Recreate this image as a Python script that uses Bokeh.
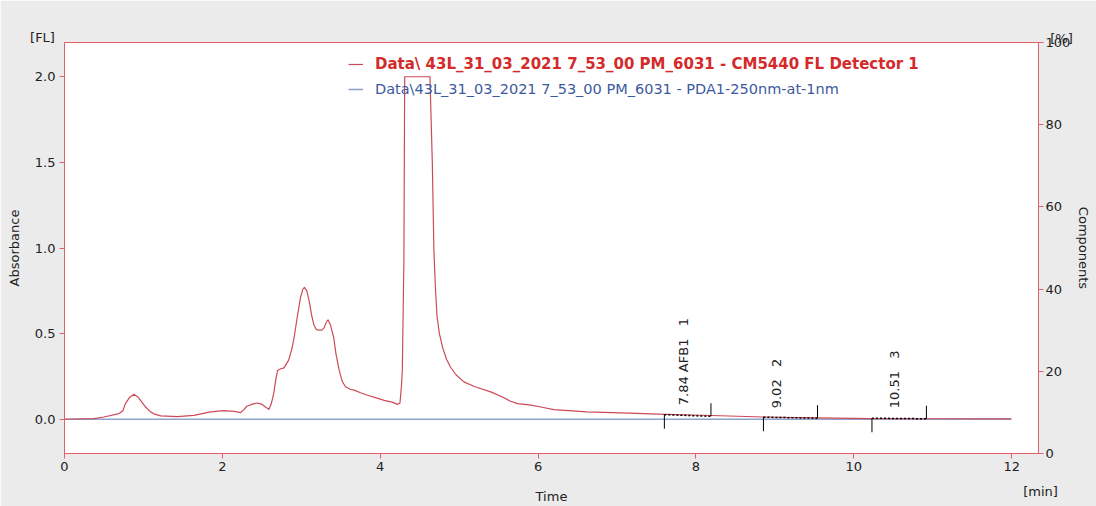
import math
from bokeh.plotting import figure
from bokeh.layouts import column
from bokeh.models import (Range1d, LinearAxis, FixedTicker, PrintfTickFormatter,
                          Legend, LegendItem, ColumnDataSource)
from bokeh.core.properties import value
from bokeh.embed import file_html
from bokeh.resources import INLINE

# ---------------- data ----------------
fl_time = [0, 0.37, 0.50, 0.69, 0.74, 0.77, 0.82, 0.88, 0.93, 0.98, 1.03, 1.09, 1.15, 1.22,
           1.43, 1.64, 1.85, 2.02, 2.15, 2.23, 2.27, 2.31, 2.38, 2.44, 2.50, 2.55, 2.59,
           2.62, 2.65, 2.68, 2.70, 2.74, 2.78, 2.84, 2.88, 2.91, 2.95, 2.99, 3.02, 3.04,
           3.07, 3.10, 3.13, 3.16, 3.19, 3.22, 3.26, 3.29, 3.32, 3.34, 3.37, 3.41, 3.44,
           3.48, 3.52, 3.56, 3.62, 3.67, 3.75, 3.84, 3.95, 4.05, 4.15, 4.22, 4.25, 4.27,
           4.28, 4.30, 4.31, 4.63, 4.66, 4.68, 4.70, 4.72, 4.75, 4.79, 4.84, 4.89, 4.96,
           5.06, 5.20, 5.40, 5.55, 5.65, 5.74, 5.91, 6.05, 6.20, 6.62, 7.05, 7.62, 8.20,
           8.86, 9.54, 10.22, 10.92, 11.99]
fl_signal = [0, 0.004, 0.013, 0.033, 0.05, 0.09, 0.125, 0.146, 0.13, 0.10, 0.07, 0.043, 0.028, 0.02,
             0.015, 0.023, 0.043, 0.05, 0.046, 0.039, 0.055, 0.076, 0.088, 0.095, 0.088, 0.07, 0.058,
             0.09, 0.15, 0.24, 0.285, 0.295, 0.30, 0.345, 0.41, 0.48, 0.60, 0.71, 0.76, 0.77,
             0.75, 0.69, 0.61, 0.55, 0.525, 0.52, 0.52, 0.535, 0.57, 0.58, 0.55, 0.48, 0.38,
             0.285, 0.22, 0.19, 0.175, 0.17, 0.155, 0.14, 0.125, 0.11, 0.10, 0.087, 0.095, 0.2,
             0.285, 0.93, 2.0, 2.0, 1.5, 0.985, 0.76, 0.60, 0.50, 0.42, 0.35, 0.305, 0.26,
             0.218, 0.19, 0.16, 0.13, 0.105, 0.091, 0.082, 0.07, 0.056, 0.043, 0.037, 0.029, 0.022,
             0.013, 0.008, 0.004, 0.003, 0.002]

pda_time = [0, 2, 4, 6, 8, 10, 12]
pda_signal = [0, 0, 0, 0, 0, 0, 0]

peak_rt = [7.84, 9.02, 10.51]
peak_names = ["7.84 AFB1\u00a0\u00a0\u00a01", "9.02\u00a0\u00a0\u00a02", "10.51\u00a0\u00a0\u00a03"]
peak_label_y = [0.082, 0.064, 0.064]
peak_start = [7.60, 8.855, 10.23]
peak_end = [8.19, 9.54, 10.92]
base_start = [0.027, 0.012, 0.006]
base_end = [0.017, 0.006, 0.003]

y_ticks = [0, 0.5, 1.0, 1.5, 2.0]
x_ticks = [0, 2, 4, 6, 8, 10, 12]
pct_ticks = [0, 20, 40, 60, 80, 100]

legend_fl = "Data\\ 43L_31_03_2021 7_53_00 PM_6031 - CM5440 FL Detector 1"
legend_pda = "Data\\43L_31_03_2021 7_53_00 PM_6031 - PDA1-250nm-at-1nm"

# ---------------- style ----------------
FRAME = "#e06070"
CURVE = "#cc4a58"
BLUE = "#8fa3cc"
TXT = "#222222"
FONT = "DejaVu Sans"
W, H = 1096, 506

p = figure(width=W, height=H, output_backend="svg", toolbar_location=None,
           x_range=Range1d(0, 12.34), y_range=Range1d(-0.2, 2.2),
           min_border_left=64, min_border_right=58, min_border_top=42, min_border_bottom=53,
           background_fill_color="white", border_fill_color="#ebebeb",
           outline_line_color=FRAME, outline_line_width=1)
p.xgrid.visible = False
p.ygrid.visible = False

p.extra_y_ranges = {"pct": Range1d(0, 100)}
rax = LinearAxis(y_range_name="pct", ticker=FixedTicker(ticks=pct_ticks))
p.add_layout(rax, "right")

p.yaxis[0].ticker = FixedTicker(ticks=y_ticks)
p.yaxis[0].formatter = PrintfTickFormatter(format="%.1f")
p.xaxis[0].ticker = FixedTicker(ticks=x_ticks)

for ax in p.axis:
    ax.axis_line_color = FRAME
    ax.major_tick_line_color = FRAME
    ax.major_tick_out = 5
    ax.major_tick_in = 0
    ax.minor_tick_line_color = None
    ax.major_label_text_font = FONT
    ax.major_label_text_font_size = "13px"
    ax.major_label_text_color = TXT
    ax.major_label_standoff = 4
    ax.axis_label_text_font = FONT
    ax.axis_label_text_font_size = "13px"
    ax.axis_label_text_font_style = "normal"
    ax.axis_label_text_color = TXT

p.yaxis[0].axis_label = "Absorbance"
p.yaxis[0].axis_label_standoff = 10
p.xaxis[0].axis_label = "Time"
p.xaxis[0].major_label_standoff = 3
p.xaxis[0].axis_label_standoff = 15
rax.axis_label = "Components"
rax.major_label_standoff = 2
rax.axis_label_standoff = 3

pda = p.line(pda_time, pda_signal, line_color=BLUE, line_width=1.6)
fl = p.line(fl_time, fl_signal, line_color=CURVE, line_width=1.2, line_join="round")

# integration marks
src = ColumnDataSource(dict(s=peak_start, e=peak_end, bs=base_start, be=base_end,
                            bs_low=[b - 0.082 for b in base_start],
                            be_high=[b + 0.076 for b in base_end]))
p.segment(x0="s", y0="bs", x1="e", y1="be", source=src, line_color="black",
          line_width=1.5, line_dash="2 2")
p.segment(x0="s", y0="bs", x1="s", y1="bs_low", source=src, line_color="black", line_width=1)
p.segment(x0="e", y0="be", x1="e", y1="be_high", source=src, line_color="black", line_width=1)

p.text(x=peak_rt, y=peak_label_y, text=peak_names, angle=math.pi / 2,
       text_align="left", text_baseline="middle", text_color="#222222",
       text_font=value(FONT), text_font_size="13px")

# legends
leg1 = Legend(items=[LegendItem(label=legend_fl, renderers=[fl])], location=(284, 379),
              label_text_font=FONT, label_text_font_size="15px", label_text_font_style="bold",
              label_text_color="#d42a2a", glyph_width=15, glyph_height=20, label_height=20,
              label_standoff=12, padding=0, margin=0, border_line_color=None,
              background_fill_alpha=0)
leg2 = Legend(items=[LegendItem(label=legend_pda, renderers=[pda])], location=(284, 354),
              label_text_font=FONT, label_text_font_size="14.5px",
              label_text_color="#3d5a9e", glyph_width=15, glyph_height=20, label_height=20,
              label_standoff=12, padding=0, margin=0, border_line_color=None,
              background_fill_alpha=0)
p.add_layout(leg1)
p.add_layout(leg2)

# transparent overlay for the unit captions outside the frame
unit_text = ["[FL]", "[%]", "[min]"]
unit_x = [42, 1061, 1040]
unit_y = [37, 38, 491]
ov = figure(width=W, height=H, output_backend="svg", toolbar_location=None,
            x_range=Range1d(0, W), y_range=Range1d(H, 0),
            x_axis_type=None, y_axis_type=None, min_border=0,
            border_fill_alpha=0, background_fill_alpha=0, outline_line_color=None,
            margin=(-H, 0, 0, 0))
ov.xgrid.visible = False
ov.ygrid.visible = False
for fig in (p, ov):
    try:
        fig.frame_align = False
    except Exception:
        pass
ov.text(x=unit_x, y=unit_y, text=unit_text, text_align="center", text_baseline="middle",
        text_color=TXT, text_font=value(FONT), text_font_size="13px")

layout = column(p, ov)
open("out.html", "w").write(file_html(layout, INLINE))
